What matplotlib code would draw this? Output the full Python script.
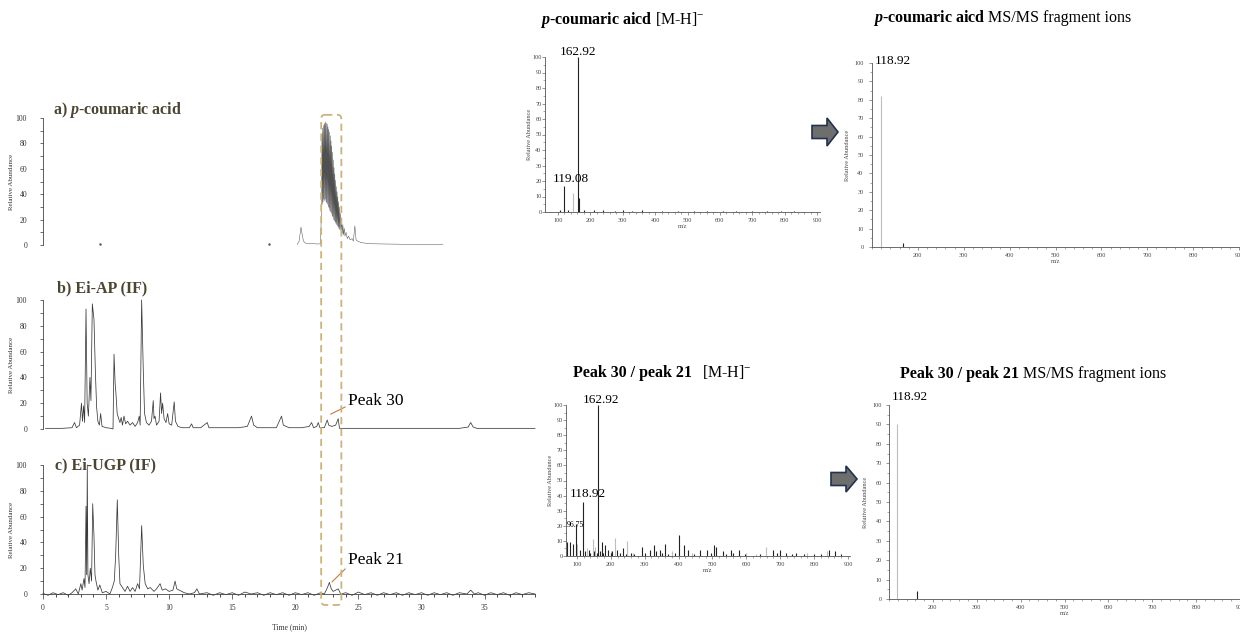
import numpy as np
import matplotlib.pyplot as plt
from matplotlib.patches import FancyBboxPatch, FancyArrow

plt.rcParams['font.family'] = ['Liberation Serif', 'DejaVu Serif']
plt.rcParams['mathtext.fontset'] = 'custom'
plt.rcParams['mathtext.rm'] = 'Liberation Serif'
plt.rcParams['mathtext.it'] = 'Liberation Serif:italic'
plt.rcParams['mathtext.bf'] = 'Liberation Serif:bold'
plt.rcParams['mathtext.bfit'] = 'Liberation Serif:italic:bold'

# ---- chromatograms: (time min, relative abundance %) ----
trace_a = [(20.15, 0.5), (20.3, 3), (20.45, 14), (20.55, 8), (20.65, 3), (20.8, 1.5), (21.0, 1),
           (21.4, 1), (21.8, 0.8), (22.0, 1),
           (22.08, 30), (22.11, 88), (22.14, 32), (22.17, 92), (22.20, 34), (22.23, 94), (22.26, 36),
           (22.29, 95), (22.32, 35), (22.35, 96), (22.38, 36), (22.41, 97), (22.44, 34), (22.47, 96),
           (22.50, 33), (22.53, 95), (22.56, 32), (22.59, 93), (22.62, 30), (22.65, 91), (22.68, 29),
           (22.71, 89), (22.74, 27), (22.77, 86), (22.80, 26), (22.83, 82), (22.86, 25), (22.89, 78),
           (22.92, 23), (22.95, 73), (22.98, 22), (23.01, 67), (23.04, 20), (23.07, 61), (23.10, 19),
           (23.13, 56), (23.16, 18), (23.19, 51), (23.22, 17), (23.25, 46), (23.28, 16), (23.31, 42),
           (23.34, 15), (23.37, 38), (23.40, 14), (23.43, 34), (23.46, 13), (23.49, 30), (23.53, 12),
           (23.57, 25), (23.62, 11), (23.67, 20), (23.72, 9), (23.77, 16), (23.82, 8), (23.88, 13),
           (23.94, 7), (24.02, 10), (24.12, 5), (24.22, 7), (24.35, 4), (24.5, 5), (24.6, 3),
           (24.72, 15), (24.82, 4), (24.95, 3), (25.2, 2), (25.5, 1.5), (26.0, 1), (27.0, 0.8),
           (28.5, 0.6), (30.0, 0.5), (31.7, 0.5)]
dots_a = [(4.5, 0.5), (17.9, 0.5)]

trace_b = [(0.2, 0.5), (1.5, 0.5), (2.3, 1), (2.5, 5), (2.65, 1), (2.9, 3), (3.05, 20), (3.13, 6),
           (3.22, 18), (3.3, 5), (3.41, 93), (3.5, 20), (3.6, 10), (3.72, 40), (3.8, 22), (3.91, 97),
           (4.04, 85), (4.15, 45), (4.25, 17), (4.35, 6), (4.47, 3), (4.57, 12), (4.68, 2), (5.0, 1),
           (5.4, 0.5), (5.55, 0), (5.63, 58), (5.72, 35), (5.78, 28), (5.88, 12), (6.0, 8), (6.1, 5),
           (6.2, 9), (6.3, 3), (6.42, 10), (6.55, 4), (6.7, 6), (6.9, 3), (7.1, 5), (7.3, 2), (7.5, 5),
           (7.63, 10), (7.7, 3), (7.82, 100), (7.95, 45), (8.05, 12), (8.2, 5), (8.4, 3), (8.6, 6),
           (8.74, 22), (8.8, 8), (8.88, 10), (9.0, 3), (9.2, 6), (9.32, 28), (9.4, 12), (9.48, 20),
           (9.6, 8), (9.75, 5), (9.88, 12), (10.0, 4), (10.2, 3), (10.4, 21), (10.5, 6), (10.7, 2),
           (11.0, 1), (11.6, 1), (11.78, 4), (11.9, 1), (12.5, 1), (13.02, 5), (13.15, 1), (14.0, 1),
           (15.0, 1), (15.5, 1), (16.2, 2), (16.53, 10), (16.7, 3), (17.0, 1), (17.5, 1), (18.5, 1),
           (18.91, 10), (19.05, 3), (19.5, 1), (20.0, 1), (20.5, 1), (21.1, 2), (21.29, 5), (21.45, 1),
           (21.7, 2), (21.82, 5), (21.95, 1), (22.3, 1), (22.53, 7), (22.65, 3), (22.9, 2), (23.2, 3),
           (23.4, 8), (23.5, 0.5), (24.0, 0.5), (25.0, 0.5), (27.0, 0.5), (29.0, 0.5), (31.0, 0.5),
           (33.0, 0.5), (33.7, 1.5), (33.9, 5), (34.1, 1.5), (34.4, 0.5), (35.0, 0.5), (37.0, 0.5),
           (39.0, 0.5)]

trace_c = [(0.0, 0.5), (0.4, -1), (0.8, 1), (1.2, -0.5), (1.6, 1), (2.0, -1), (2.3, 1), (2.6, 4),
           (2.8, 0), (3.0, 8), (3.1, 3), (3.25, 12), (3.33, 5), (3.41, 68), (3.46, 15), (3.51, 100),
           (3.56, 15), (3.65, 8), (3.75, 20), (3.85, 10), (3.94, 70), (4.04, 45), (4.12, 15), (4.2, 10),
           (4.35, 3), (4.5, 7), (4.7, 1), (5.0, 2), (5.3, 0), (5.5, 5), (5.65, 10), (5.76, 30),
           (5.89, 73), (6.0, 30), (6.1, 8), (6.3, 5), (6.5, 2), (6.7, 6), (6.9, 2), (7.1, 5), (7.3, 2),
           (7.5, 8), (7.65, 4), (7.82, 53), (7.95, 22), (8.1, 8), (8.3, 4), (8.5, 5), (8.8, 2), (9.0, 4),
           (9.28, 8), (9.45, 3), (9.7, 4), (10.0, 2), (10.3, 3), (10.47, 10), (10.6, 4), (10.8, 3),
           (11.2, 1), (11.6, 0), (12.0, 1), (12.2, 4), (12.4, 0), (13.0, 1), (13.5, -1), (14.0, 1),
           (14.5, -0.5), (15.0, 1), (15.5, -1), (16.0, 1.5), (16.5, 0), (17.0, 1), (17.5, -1), (18.0, 1),
           (18.5, -0.5), (19.0, 1), (19.5, -1), (20.0, 1), (20.5, -0.5), (21.0, 1), (21.5, -1), (22.0, 1),
           (22.3, 0), (22.55, 5), (22.7, 9), (22.85, 4), (23.0, 2), (23.2, 3), (23.4, 4), (23.6, 0),
           (24.0, 1), (24.5, -1), (25.0, 1.5), (25.5, -0.5), (26.0, 1), (26.5, -1), (27.0, 1),
           (27.5, -0.5), (28.0, 1), (28.5, -1), (29.0, 1), (29.5, -0.5), (30.0, 1), (30.5, -1),
           (31.0, 1), (31.5, -0.5), (32.0, 1), (32.5, -1), (33.0, 1), (33.6, 0), (33.9, 3), (34.2, 0),
           (34.5, 1), (35.0, -1), (35.5, 1), (36.0, -0.5), (36.5, 1), (37.0, -1), (37.5, 1),
           (38.0, -0.5), (38.5, 1), (39.0, 0)]

highlight_window = (22.05, 23.65)   # retention time window of p-coumaric acid

# ---- mass spectra ----
tm_mz = [119.08, 162.92, 165.5, 105, 130, 180, 210, 240, 275, 300, 330, 360, 420, 470, 520, 560, 610,
         650, 700, 745, 790, 830]
tm_ab = [17, 100, 9, 1, 1.5, 1, 1, 1, 0.8, 1, 0.8, 1, 0.8, 0.6, 0.8, 0.6, 0.8, 0.6, 0.8, 0.6, 0.8, 0.6]
tm_mz_light = [146]
tm_ab_light = [12]

tr_mz = [167]
tr_ab = [2]
tr_mz_light = [118.92]
tr_ab_light = [82]

bm_mz = [71.4, 79.4, 87.3, 96.75, 108.8, 118.92, 123.6, 136.3, 162.92, 172.8, 182.6, 192.4, 219,
         236.6, 290.8, 315.3, 327, 344.8, 359.6, 401.8, 415.6, 428.4, 462.8, 482.6, 504, 512, 529.8,
         553.4, 578.8, 679, 698.8, 718.5, 748, 844, 861,
         140, 150, 158, 168, 178, 200, 205, 228, 245, 260, 270, 300, 335, 352, 370, 390, 445, 497,
         540, 560, 595, 640, 690, 735, 770, 800, 820, 880]
bm_ab = [9, 9, 8, 21, 4, 36, 3, 4, 100, 9, 7, 4, 4, 5, 6, 4, 7, 4, 8, 14, 7, 4, 4, 4, 7, 6, 3, 4, 4,
         4, 4, 2, 2, 4, 3,
         2, 3, 2, 3, 2, 2, 3, 2, 1.5, 2, 1.5, 2, 3, 2, 1.5, 2, 1.5, 2, 1.5, 2, 1, 1.5, 2, 1, 1.5, 1,
         1.5, 1]
bm_mz_light = [148, 212, 248.4, 659.6, 838, 100, 130, 155, 200, 265, 380, 440, 600, 630, 780]
bm_ab_light = [11, 12, 10, 6, 3, 8, 5, 6, 3, 2, 3, 2, 2, 1.5, 2]

br_mz = [164]
br_ab = [4]
br_mz_light = [118.92]
br_ab_light = [90]

W, H = 1240, 633
fig = plt.figure(figsize=(12.4, 6.33), dpi=100)


def add_px_axes(left, top, right, bottom):
    return fig.add_axes([left / W, 1 - bottom / H, (right - left) / W, (bottom - top) / H])


def chrom(ax, trace, show_x, lw=0.55, color='#3a3a3a'):
    t, y = zip(*trace)
    ax.plot(t, y, color=color, lw=lw, clip_on=False)
    ax.set_xlim(0, 39)
    ax.set_ylim(0, 100)
    ax.patch.set_visible(False)
    for s in ['top', 'right']:
        ax.spines[s].set_visible(False)
    ax.spines['left'].set_linewidth(0.6)
    ax.spines['left'].set_color('#444444')
    ax.set_yticks(np.arange(0, 101, 20))
    ax.set_yticks(np.arange(10, 100, 20), minor=True)
    ax.tick_params(axis='y', which='both', length=2.5, width=0.5, labelsize=5.5, pad=9,
                   colors='#333333')
    ax.set_ylabel('Relative Abundance', fontsize=5, color='#333333')
    ax.yaxis.set_label_coords(-0.058, 0.5)
    if show_x:
        ax.spines['bottom'].set_linewidth(0.6)
        ax.spines['bottom'].set_color('#444444')
        ax.set_xticks(np.arange(0, 36, 5))
        ax.set_xticks(np.arange(0, 39.1, 1), minor=True)
        ax.tick_params(axis='x', which='major', length=3.5, width=0.5, labelsize=5.5, pad=4,
                       colors='#333333')
        ax.tick_params(axis='x', which='minor', length=2, width=0.5)
        ax.set_xlabel('Time (min)', fontsize=5.5, labelpad=8, color='#333333')
    else:
        ax.spines['bottom'].set_visible(False)
        ax.set_xticks([])


def spectrum(ax, mz, ab, mz_l, ab_l, xlim, xticks, ypad, ylab_x):
    ax.vlines(mz_l, 0, ab_l, colors='#bdbdbd', lw=0.8)
    ax.vlines(mz, 0, ab, colors='#222222', lw=0.8)
    ax.set_xlim(*xlim)
    ax.set_ylim(0, 100)
    ax.patch.set_visible(False)
    for s in ['top', 'right']:
        ax.spines[s].set_visible(False)
    for s in ['left', 'bottom']:
        ax.spines[s].set_linewidth(0.6)
        ax.spines[s].set_color('#555555')
    ax.set_yticks(np.arange(0, 101, 10))
    ax.set_yticks(np.arange(5, 100, 10), minor=True)
    ax.set_xticks(xticks)
    ax.set_xticks(np.arange(100, 901, 20), minor=True)
    ax.tick_params(which='major', length=2, width=0.4, labelsize=4.5, colors='#444444')
    ax.tick_params(which='minor', length=1.2, width=0.4, colors='#666666')
    ax.tick_params(axis='y', pad=ypad)
    ax.tick_params(axis='x', pad=2)
    ax.set_ylabel('Relative Abundance', fontsize=4.5, color='#444444')
    ax.yaxis.set_label_coords(ylab_x, 0.5)
    ax.set_xlabel('m/z', fontsize=4.5, labelpad=1, color='#444444')


# chromatograms
ax_a = add_px_axes(43, 118, 535, 245)
ax_b = add_px_axes(43, 300, 535, 429)
ax_c = add_px_axes(43, 465, 535, 594)
chrom(ax_a, trace_a, False, lw=0.35, color='#505050')
da_t, da_y = zip(*dots_a)
ax_a.plot(da_t, da_y, ls='none', marker='.', ms=1.5, color='#555555', clip_on=False)
chrom(ax_b, trace_b, False)
chrom(ax_c, trace_c, True)

peak_col = '#c47a45'
ax_b.annotate('Peak 30', xy=(22.8, 11.5), xytext=(24.18, 15.5), ha='left', va='bottom',
              fontsize=12.5, arrowprops=dict(arrowstyle='-', color=peak_col, lw=0.8,
                                             relpos=(0.05, 0.3), shrinkA=0, shrinkB=0))
ax_c.annotate('Peak 21', xy=(22.9, 9.3), xytext=(24.18, 20), ha='left', va='bottom',
              fontsize=12.5, arrowprops=dict(arrowstyle='-', color=peak_col, lw=0.8,
                                             relpos=(0.05, 0.3), shrinkA=0, shrinkB=0))

# spectra
ax_tm = add_px_axes(545, 57, 820, 212)
spectrum(ax_tm, tm_mz, tm_ab, tm_mz_light, tm_ab_light, (60, 909), np.arange(100, 901, 100), 0.5, -0.047)
ax_tm.text(163, 103, '162.92', ha='center', va='center', fontsize=9.5)
ax_tm.text(140, 21, '119.08', ha='center', va='center', fontsize=9.5)

ax_tr = add_px_axes(872, 63, 1240, 247)
spectrum(ax_tr, tr_mz, tr_ab, tr_mz_light, tr_ab_light, (114, 902), np.arange(200, 901, 100), 4, -0.06)
ax_tr.text(146, 101, '118.92', ha='center', va='center', fontsize=9.5)

ax_bm = add_px_axes(566, 405, 850, 556)
spectrum(ax_bm, bm_mz, bm_ab, bm_mz_light, bm_ab_light, (68, 906), np.arange(100, 901, 100), 0.3, -0.046)
ax_bm.text(171, 103, '162.92', ha='center', va='center', fontsize=9.5)
ax_bm.text(133, 41, '118.92', ha='center', va='center', fontsize=9.5)
ax_bm.text(94.5, 20.5, '96.75', ha='center', va='center', fontsize=5.5)

ax_br = add_px_axes(889, 405, 1240, 599)
spectrum(ax_br, br_mz, br_ab, br_mz_light, br_ab_light, (118, 888), np.arange(200, 901, 100), 3, -0.06)
ax_br.text(146.5, 104, '118.92', ha='center', va='center', fontsize=9.5)

# overlay in pixel units for titles, highlight box and arrows
ov = fig.add_axes([0, 0, 1, 1], zorder=5)
ov.set_xlim(0, W)
ov.set_ylim(H, 0)
ov.axis('off')


def to_px(ax, x, y):
    return ov.transData.inverted().transform(ax.transData.transform((x, y)))


x0, y_top = to_px(ax_a, highlight_window[0], 102.5)
x1, y_bot = to_px(ax_c, highlight_window[1], -8.5)
ov.add_patch(FancyBboxPatch((x0, y_top), x1 - x0, y_bot - y_top,
                            boxstyle='round,pad=0,rounding_size=4', fc='none', ec='#c9b37e',
                            lw=1.3, ls=(0, (4, 2.5))))

title_col = '#4b4632'
ov.text(53, 110, r'a) $\mathbfit{p}$-coumaric acid', fontsize=11.5, fontweight='bold',
        color=title_col, va='center')
ov.text(57, 288, 'b) Ei-AP (IF)', fontsize=11.5, fontweight='bold', color=title_col, va='center')
ov.text(55, 465, 'c) Ei-UGP (IF)', fontsize=11.5, fontweight='bold', color=title_col, va='center')


def two_part(x, y, bold_part, plain_part, gap, dy=0, size=11.5):
    t1 = ov.text(x, y, bold_part, fontsize=size, fontweight='bold', va='center', ha='left')
    ov.annotate(plain_part, xy=(1, 0), xycoords=t1, xytext=(gap, dy), textcoords='offset points',
                va='bottom', ha='left', fontsize=size)


two_part(540, 20, r'$\mathbfit{p}$-coumaric aicd', r'[M-H]$^{-}$', 1.8, 1.5)
two_part(873, 18, r'$\mathbfit{p}$-coumaric aicd', 'MS/MS fragment ions', 1.8, 1.5)
two_part(573, 373, 'Peak 30 / peak 21', r'[M-H]$^{-}$', 7)
two_part(900, 374, 'Peak 30 / peak 21', 'MS/MS fragment ions', 3)

arrow_fc, arrow_ec = '#6e6e6e', '#23324f'
ov.add_patch(FancyArrow(812, 132, 26, 0, width=13, head_width=28, head_length=11,
                        length_includes_head=True, fc=arrow_fc, ec=arrow_ec, lw=1.2))
ov.add_patch(FancyArrow(831, 479, 26, 0, width=13, head_width=26, head_length=11,
                        length_includes_head=True, fc=arrow_fc, ec=arrow_ec, lw=1.2))

fig.savefig('out.png', dpi=100)
